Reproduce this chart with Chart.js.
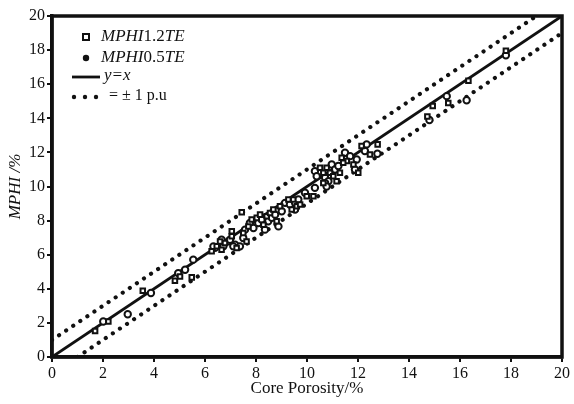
<!DOCTYPE html>
<html lang="en">
<head>
<meta charset="UTF-8">
<title>MPHI vs Core Porosity</title>
<style>
  html, body { margin: 0; padding: 0; background: #fff; }
  #wrap { width: 574px; height: 404px; }
</style>
</head>
<body>
<div id="wrap"><canvas id="chart" width="574" height="404"></canvas></div>
<script src="https://cdn.jsdelivr.net/npm/chart.js@4.4.1/dist/chart.umd.min.js"></script>
<script>
// MPHI (1.2TE) points
const phi12X = [1.69, 2.21, 3.56, 4.82, 5.02, 5.48, 6.26, 6.46, 6.78, 7.05, 7.44, 6.59, 6.65, 7.05, 7.24,
  7.5, 7.7, 7.83, 8.03, 8.16, 8.29, 8.42, 8.55, 8.68, 8.81, 8.94, 7.63, 9.27, 9.4, 9.6, 9.73, 9.99,
  10.25, 10.51, 10.64, 10.77, 10.9, 11.03, 11.16, 11.29, 11.36, 11.56, 11.82, 12.01, 12.14, 12.47,
  12.77, 11.42, 10.64, 9.46, 14.72, 14.93, 15.54, 16.33, 17.8];
const phi12Y = [1.53, 2.08, 3.88, 4.47, 4.72, 4.67, 6.2, 6.5, 6.69, 7.37, 8.49, 6.78, 6.29, 7.08, 6.39,
  7.27, 7.66, 8.06, 8.16, 8.35, 7.76, 8.25, 8.45, 8.65, 7.96, 8.84, 6.78, 9.24, 8.65, 8.84, 8.94, 9.43,
  9.43, 11.1, 10.8, 11.1, 10.8, 10.6, 10.31, 10.8, 11.69, 11.49, 11.29, 10.8, 12.37, 11.88,
  12.47, 11.39, 10.2, 9.24, 14.1, 14.72, 14.9, 16.2, 17.96];

// MPHI (0.5TE) points
const phi05X = [2.01, 2.97, 3.88, 4.95, 5.22, 5.54, 6.39, 6.65, 6.92, 7.18, 6.33, 6.72, 6.98, 7.11, 7.37,
  7.57, 7.76, 7.9, 8.09, 8.22, 8.35, 8.48, 8.62, 8.75, 8.88, 9.01, 7.5, 9.14, 9.33, 9.53, 9.66, 9.92,
  10.31, 10.31, 10.38, 10.71, 10.84, 10.97, 11.1, 11.23, 10.71, 11.49, 11.69, 11.88, 11.95, 12.27,
  12.34, 12.76, 10.77, 9.53, 14.8, 15.48, 16.26, 17.8];
const phi05Y = [2.08, 2.51, 3.75, 4.92, 5.12, 5.71, 6.4, 6.88, 6.78, 6.59, 6.49, 6.49, 6.88, 6.49, 6.49,
  7.47, 7.86, 7.57, 7.86, 8.06, 7.47, 7.96, 8.16, 8.35, 7.66, 8.55, 6.98, 9.04, 8.94, 9.04, 9.24, 9.63,
  9.92, 10.9, 10.6, 10.51, 10.31, 11.29, 11.0, 11.2, 10.2, 11.98, 11.78, 11.0, 11.58, 12.08,
  12.47, 11.92, 10.0, 8.65, 13.9, 15.3, 15.06, 17.7];

// reference lines: y = x and +/- 1 p.u
const lineX = [0, 20];
const lineY = [0, 20];
const upperX = [0, 19];
const upperY = [1, 20];
const lowerX = [1, 20];
const lowerY = [0, 19];

const axisTicks = [0, 2, 4, 6, 8, 10, 12, 14, 16, 18, 20];
const legendLabels = [
  [['MPHI', true], ['1.2', false], ['TE', true]],
  [['MPHI', true], ['0.5', false], ['TE', true]],
  [['y=x', true]],
  [['= \u00b1 1 p.u', false]]
];

const ink = '#111';
const serif = '"Liberation Serif", "Times New Roman", serif';

function toPoints(xs, ys) {
  return xs.map((x, i) => ({ x: x, y: ys[i] }));
}

// draws a label made of italic / upright pieces
function drawRich(ctx, x, y, parts, size) {
  parts.forEach(([text, italic]) => {
    ctx.font = (italic ? 'italic ' : '') + size + 'px ' + serif;
    ctx.fillText(text, x, y);
    x += ctx.measureText(text).width;
  });
}

const framePlugin = {
  id: 'frame',
  afterDraw(chart) {
    const { ctx, chartArea } = chart;
    ctx.save();
    ctx.strokeStyle = ink;
    ctx.lineWidth = 3.5;
    ctx.strokeRect(chartArea.left, chartArea.top, chartArea.right - chartArea.left, chartArea.bottom - chartArea.top);

    // legend in the top left corner of the plot
    const lx = chartArea.left + 34;
    const ty = chartArea.top + 21;
    ctx.fillStyle = '#fff';
    ctx.lineWidth = 2;
    ctx.fillRect(lx - 3, ty - 3, 6, 6);
    ctx.strokeRect(lx - 3, ty - 3, 6, 6);
    ctx.fillStyle = ink;
    ctx.beginPath();
    ctx.arc(lx, ty + 21, 3.2, 0, Math.PI * 2);
    ctx.fill();

    ctx.lineWidth = 2.8;
    ctx.beginPath();
    ctx.moveTo(lx - 14, ty + 40);
    ctx.lineTo(lx + 14, ty + 40);
    ctx.stroke();

    [lx - 12, lx - 1, lx + 10].forEach(dx => {
      ctx.beginPath();
      ctx.arc(dx, ty + 60, 2.2, 0, Math.PI * 2);
      ctx.fill();
    });

    ctx.textBaseline = 'middle';
    drawRich(ctx, lx + 15, ty, legendLabels[0], 17);
    drawRich(ctx, lx + 15, ty + 21, legendLabels[1], 17);
    drawRich(ctx, lx + 18, ty + 39, legendLabels[2], 17);
    drawRich(ctx, lx + 23, ty + 59, legendLabels[3], 16);
    ctx.restore();
  }
};

function axisOptions(title, italic, fit) {
  return {
    type: 'linear',
    min: 0,
    max: 20,
    afterBuildTicks: s => { s.ticks = axisTicks.map(v => ({ value: v })); },
    afterFit: fit,
    ticks: { color: ink, font: { family: serif, size: 16 }, padding: 2 },
    grid: { display: true, drawOnChartArea: false, drawTicks: true, tickLength: 5, color: ink, lineWidth: 2 },
    border: { display: true, color: ink, width: 3.5 },
    title: {
      display: true,
      text: title,
      color: ink,
      font: { family: serif, size: 17, style: italic ? 'italic' : 'normal' },
      padding: { top: 5, bottom: 5 }
    }
  };
}

const ctx = document.getElementById('chart').getContext('2d');
new Chart(ctx, {
  type: 'scatter',
  data: {
    datasets: [
      {
        label: 'MPHI1.2TE',
        data: toPoints(phi12X, phi12Y),
        pointStyle: 'rect',
        pointRadius: 3.2,
        borderWidth: 2,
        borderColor: ink,
        backgroundColor: '#fff'
      },
      {
        label: 'MPHI0.5TE',
        data: toPoints(phi05X, phi05Y),
        pointStyle: 'circle',
        pointRadius: 3.2,
        borderWidth: 2,
        borderColor: ink,
        backgroundColor: '#fff'
      },
      {
        label: 'y=x',
        data: toPoints(lineX, lineY),
        showLine: true,
        pointRadius: 0,
        borderColor: ink,
        borderWidth: 2.8
      },
      {
        label: '+1 p.u',
        data: toPoints(upperX, upperY),
        showLine: true,
        pointRadius: 0,
        borderColor: ink,
        borderWidth: 4.2,
        borderDash: [0.01, 8.5],
        borderCapStyle: 'round'
      },
      {
        label: '-1 p.u',
        data: toPoints(lowerX, lowerY),
        showLine: true,
        pointRadius: 0,
        borderColor: ink,
        borderWidth: 4.2,
        borderDash: [0.01, 8.5],
        borderCapStyle: 'round'
      }
    ]
  },
  options: {
    responsive: false,
    animation: false,
    devicePixelRatio: 1,
    layout: { padding: { top: 16, right: 12, left: 0, bottom: 0 } },
    plugins: { legend: { display: false }, tooltip: { enabled: false } },
    scales: {
      x: axisOptions('Core Porosity/%', false, s => { s.height = 47; }),
      y: axisOptions('MPHI /%', true, s => { s.width = 52; })
    }
  },
  plugins: [framePlugin]
});
</script>
</body>
</html>
